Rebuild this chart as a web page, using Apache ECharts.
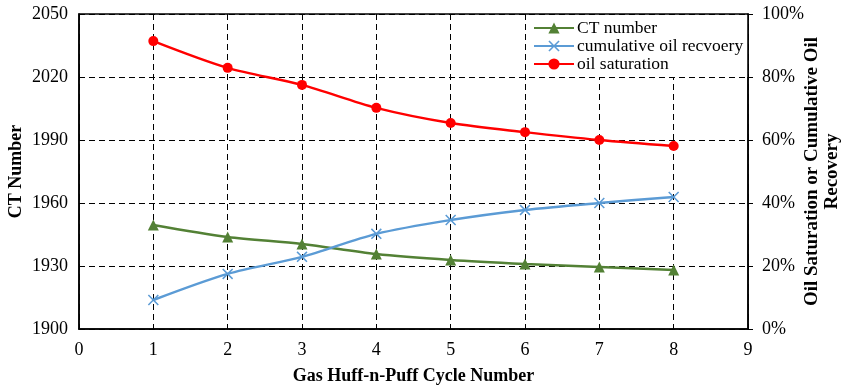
<!DOCTYPE html>
<html><head><meta charset="utf-8">
<script src="https://cdn.jsdelivr.net/npm/echarts@6/dist/echarts.min.js"></script>
<style>html,body{margin:0;padding:0;background:#fff}#c{width:853px;height:386px}</style>
</head><body><div id="c"></div>
<script>
const cycles = [1, 2, 3, 4, 5, 6, 7, 8];
const ctNumber = [1949.5, 1943.8, 1940.5, 1935.7, 1932.9, 1931.0, 1929.5, 1928.1];
const cumRecovery = [9.2, 17.5, 22.9, 30.2, 34.6, 37.8, 40.0, 41.9];
const oilSaturation = [91.4, 82.9, 77.5, 70.2, 65.4, 62.5, 60.0, 58.1];
const seriesNames = ['CT number', 'cumulative oil recvoery', 'oil saturation'];

const font = 'Liberation Serif, Times New Roman, serif';
const xShape = 'path://M0,1L1,0L5,4L9,0L10,1L6,5L10,9L9,10L5,6L1,10L0,9L4,5Z';
const pairs = a => cycles.map((c, i) => [c, a[i]]);
const dash = { color: '#000', type: [6, 4], width: 1 };

const chart = echarts.init(document.getElementById('c'));
chart.setOption({
  animation: false,
  backgroundColor: '#fff',
  textStyle: { fontFamily: font },
  grid: { left: 79, right: 105, top: 14, bottom: 57, show: true, borderColor: '#000', borderWidth: 1.5,
          containLabel: false, outerBoundsMode: 'none' },
  legend: {
    orient: 'vertical', left: 529, top: 15, itemGap: 0, itemWidth: 40, itemHeight: 14,
    backgroundColor: '#fff', padding: [4, 4, 4, 4],
    textStyle: { fontFamily: font, fontSize: 17.5, color: '#000', lineHeight: 18, padding: [0, 0, 0, -2] },
    data: seriesNames
  },
  xAxis: {
    type: 'value', min: 0, max: 9, interval: 1,
    name: 'Gas Huff-n-Puff Cycle Number', nameLocation: 'middle', nameGap: 38, nameMoveOverlap: false,
    nameTextStyle: { fontFamily: font, fontSize: 18, fontWeight: 'bold', color: '#000' },
    axisLine: { lineStyle: { color: '#000', width: 1.5 } },
    axisTick: { show: false },
    axisLabel: { fontFamily: font, fontSize: 18, color: '#000', margin: 12 },
    splitLine: { show: true, lineStyle: dash }
  },
  yAxis: [{
    type: 'value', min: 1900, max: 2050, interval: 30, position: 'left',
    name: 'CT Number', nameLocation: 'middle', nameGap: 54, nameMoveOverlap: false,
    nameTextStyle: { fontFamily: font, fontSize: 18, fontWeight: 'bold', color: '#000' },
    axisLine: { show: true, lineStyle: { color: '#000', width: 1.5 } },
    axisTick: { show: false },
    axisLabel: { fontFamily: font, fontSize: 18, color: '#000', margin: 11, formatter: v => String(v) },
    splitLine: { show: true, lineStyle: dash }
  }, {
    type: 'value', min: 0, max: 100, interval: 20, position: 'right',
    name: 'Oil Saturation or Cumulative Oil\nRecovery', nameLocation: 'middle', nameGap: 54, nameMoveOverlap: false,
    nameTextStyle: { fontFamily: font, fontSize: 19, fontWeight: 'bold', color: '#000', lineHeight: 20 },
    axisLine: { show: true, lineStyle: { color: '#000', width: 1.5 } },
    axisTick: { show: true, inside: false, length: 5, lineStyle: { color: '#000' } },
    axisLabel: { fontFamily: font, fontSize: 18, color: '#000', margin: 14, formatter: '{value}%' },
    splitLine: { show: false }
  }],
  series: [{
    name: seriesNames[0], type: 'line', yAxisIndex: 0, smooth: 0.3, data: pairs(ctNumber),
    symbol: 'triangle', symbolSize: 11, color: '#538135',
    lineStyle: { width: 2.5, color: '#538135' }, itemStyle: { color: '#538135' }
  }, {
    name: seriesNames[1], type: 'line', yAxisIndex: 1, smooth: 0.3, data: pairs(cumRecovery),
    symbol: xShape, symbolSize: 11, color: '#5b9bd5',
    lineStyle: { width: 2.5, color: '#5b9bd5' }, itemStyle: { color: '#5b9bd5' }
  }, {
    name: seriesNames[2], type: 'line', yAxisIndex: 1, smooth: 0.3, data: pairs(oilSaturation),
    symbol: 'circle', symbolSize: 10, color: '#ff0000',
    lineStyle: { width: 2.5, color: '#ff0000' }, itemStyle: { color: '#ff0000' }
  }]
});
</script></body></html>
